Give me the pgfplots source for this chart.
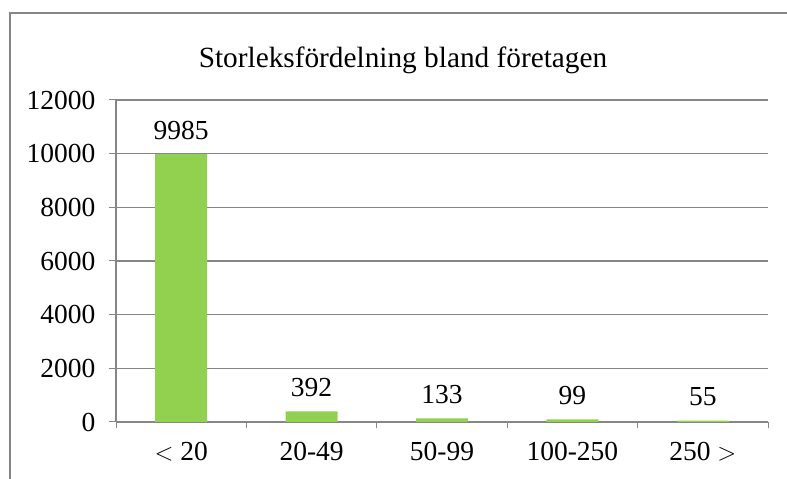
\documentclass[border=0pt]{standalone}
\usepackage{pgfplots}
\pgfplotsset{compat=1.18}
\usepackage{fontspec}
\setmainfont{Liberation Serif}
\definecolor{bargreen}{HTML}{92D050}
\definecolor{gridgray}{HTML}{868686}
\begin{document}
\begin{tikzpicture}
\begin{axis}[
  at={(116pt,57pt)}, anchor=south west,
  scale only axis, width=652pt, height=322pt,
  xmin=-0.5, xmax=4.5, ymin=0, ymax=12000,
  ytick={0,2000,...,12000},
  xtick={0,1,2,3,4},
  xticklabels={{$<$ 20},{20-49},{50-99},{100-250},{250 $>$}},
  minor xtick={-0.5,0.5,1.5,2.5,3.5,4.5},
  major x tick style={draw=none},
  minor tick length=6pt,
  major tick length=7pt,
  tick align=outside,
  tick style={gridgray,line width=1pt},
  axis x line*=bottom, axis y line*=left,
  axis line style={gridgray,line width=1.2pt,-},
  ymajorgrids, grid style={gridgray,line width=1.2pt},
  scaled y ticks=false,
  /pgf/number format/assume math mode=true,
  /pgf/number format/1000 sep={},
  ticklabel style={font=\fontsize{27.5}{32}\selectfont},
  yticklabel style={xshift=-10pt},
  xticklabel style={yshift=-10pt},
  ybar, bar width=52pt,
  nodes near coords,
  every node near coord/.append style={font=\fontsize{27.5}{32}\selectfont, anchor=base, inner sep=0pt, yshift=15pt, /pgf/number format/assume math mode=true, /pgf/number format/1000 sep={}},
  clip=false,
]
\addplot[fill=bargreen, draw=none] coordinates {(0,9985) (1,392) (2,133) (3,99) (4,55)};
\end{axis}
\draw[gridgray,line width=1.2pt] (10pt,0pt) -- (10pt,466pt) -- (787pt,466pt);
\node[font=\fontsize{29.3}{34}\selectfont,anchor=base] at (403pt,411pt) {Storleksfördelning bland företagen};
\pgfresetboundingbox
\useasboundingbox (0pt,0pt) rectangle (787pt,479pt);
\end{tikzpicture}
\end{document}
